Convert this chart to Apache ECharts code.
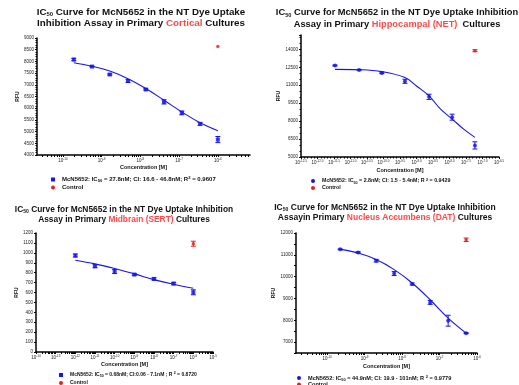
<!DOCTYPE html>
<html>
<head>
<meta charset="utf-8">
<script src="https://cdn.jsdelivr.net/npm/echarts@6/dist/echarts.min.js"></script>
<style>
  html, body { margin: 0; padding: 0; background: #fff; }
  #chart { width: 519px; height: 385px; }
</style>
</head>
<body>
<div id="chart"></div>
<script>
// log10 concentration [M] of each dilution
const corticalConc = [-9.72, -9.25, -8.79, -8.32, -7.86, -7.39, -6.93, -6.46, -6.0];
const corticalRfu = [8080, 7780, 7440, 7160, 6800, 6270, 5800, 5330, 4660];
const corticalErr = [50, 20, 30, 60, 30, 90, 80, 60, 130];
const corticalFit = [7940, 7790, 7590, 7260, 6840, 6340, 5840, 5380, 5040];
const corticalCtrl = [-6.0, 8640, 0];

const hippoConc = [-11.47, -10.74, -10.05, -9.35, -8.62, -7.92, -7.23];
const hippoRfu = [12650, 12280, 12030, 11330, 10030, 8330, 5970];
const hippoErr = [40, 40, 60, 170, 220, 250, 300];
const hippoFitConc = [-11.47, -10.74, -10.05, -9.35, -9.0, -8.62, -8.27, -7.92, -7.57, -7.23];
const hippoFit = [12330, 12300, 12140, 11640, 10940, 10110, 9000, 8170, 7330, 6640];
const hippoCtrl = [-7.23, 13890, 80];

const midConc = [-12, -11, -10, -9, -8, -7, -6];
const midRfu = [973, 865, 811, 781, 737, 690, 602];
const midErr = [15, 15, 20, 8, 12, 12, 25];
const midFit = [926, 889, 842, 788, 730, 683, 642];
const midCtrl = [-6, 1092, 25];

const nacConc = [-9.65, -9.17, -8.69, -8.21, -7.73, -7.25, -6.77, -6.29];
const nacRfu = [11250, 11110, 10730, 10140, 9660, 8820, 7980, 7410];
const nacErr = [20, 30, 60, 90, 50, 90, 250, 20];
const nacFit = [11250, 11080, 10780, 10320, 9710, 8940, 8100, 7410];
const nacCtrl = [-6.29, 11690, 80];

const legendTexts = [
  "McN5652: IC{sub|50} = 27.8nM; CI: 16.6 - 46.8nM; R{sup|2} = 0.9607",
  "McN5652: IC{sub|50} = 2.8nM; CI: 1.5 - 5.4nM; R {sup|2} = 0.9429",
  "McN5652: IC{sub|50} = 0.68nM; CI:0.06 - 7.1nM ; R {sup|2} = 0.8720",
  "McN5652: IC{sub|50} = 44.9nM; CI: 19.9 - 101nM; R {sup|2} = 0.9779",
];

const BLUE = "#1414f0";
const RED = "#ee1c1c";
const TITLE_RED = "#ff4a4a";

const panels = [
  {
    conc: corticalConc, rfu: corticalRfu, err: corticalErr, fitX: corticalConc, fit: corticalFit, ctrl: corticalCtrl,
    grid: { left: 37, top: 38, width: 213, height: 117 },
    x: { min: -10.67, max: -5.17, decade: true },
    y: { min: 4000, max: 9000, interval: 500, minor: 5 },
    symbol: "rect", legend: { left: 51, top: 176, gap: 1.5, font: 6 }, nameGap: 8, rfuGap: 17,
  },
  {
    conc: hippoConc, rfu: hippoRfu, err: hippoErr, fitX: hippoFitConc, fit: hippoFit, ctrl: hippoCtrl,
    grid: { left: 301, top: 35, width: 198, height: 122 },
    x: { min: -12.5, max: -6.5, interval: 0.5 },
    y: { min: 5000, max: 15200, interval: 1500, minor: 3 },
    symbol: "circle", legend: { left: 311, top: 177.5, gap: 1, font: 5.3 }, nameGap: 10, rfuGap: 16,
  },
  {
    conc: midConc, rfu: midRfu, err: midErr, fitX: midConc, fit: midFit, ctrl: midCtrl,
    grid: { left: 36, top: 233, width: 177, height: 119 },
    x: { min: -14, max: -5, decade: true },
    y: { min: 0, max: 1200, interval: 100, minor: 0 },
    symbol: "rect", legend: { left: 59, top: 371.5, gap: 2, font: 5 }, nameGap: 9, rfuGap: 13,
  },
  {
    conc: nacConc, rfu: nacRfu, err: nacErr, fitX: nacConc, fit: nacFit, ctrl: nacCtrl,
    grid: { left: 296, top: 233, width: 181, height: 120 },
    x: { min: -10.83, max: -6, decade: true },
    y: { min: 6500, max: 12000, interval: 500, minor: 0, every: 1000 },
    symbol: "circle", legend: { left: 297, top: 374.5, gap: 0, font: 5.6 }, nameGap: 10, rfuGap: 13,
  },
];

const chart = echarts.init(document.getElementById("chart"));

function logTicks(min, max) {
  let out = [];
  for (let d = Math.floor(min); d <= Math.ceil(max); d++) {
    for (let m = 1; m <= 9; m++) {
      let v = d + Math.log10(m);
      if (v >= min - 1e-9 && v <= max + 1e-9) out.push(v);
    }
  }
  return out;
}
function decades(min, max) {
  let out = [];
  for (let d = Math.ceil(min); d <= Math.floor(max); d++) out.push(d);
  return out;
}

const errorBar = (color) => (params, api) => {
  if (!api.value(2)) return null;
  let x = api.value(0);
  let lo = api.coord([x, api.value(1) - api.value(2)]);
  let hi = api.coord([x, api.value(1) + api.value(2)]);
  let style = { stroke: color, lineWidth: 1 };
  return {
    type: "group",
    children: [
      { type: "line", shape: { x1: lo[0], y1: lo[1], x2: hi[0], y2: hi[1] }, style },
      { type: "line", shape: { x1: lo[0] - 2.5, y1: lo[1], x2: lo[0] + 2.5, y2: lo[1] }, style },
      { type: "line", shape: { x1: hi[0] - 2.5, y1: hi[1], x2: hi[0] + 2.5, y2: hi[1] }, style },
    ],
  };
};

const labelRich = {
  b: { fontSize: 4.5, fontFamily: "Liberation Sans", color: "#222" },
  s: { fontSize: 3, fontFamily: "Liberation Sans", color: "#222", verticalAlign: "top", padding: [0, 0, 3, 0] },
};

let grids = [], xAxes = [], yAxes = [], series = [], legends = [];
panels.forEach((p, i) => {
  grids.push(Object.assign({ containLabel: false }, p.grid));
  let xa = {
    type: "value", gridIndex: i, min: p.x.min, max: p.x.max,
    name: "Concentration [M]", nameLocation: "middle", nameGap: p.nameGap,
    nameTextStyle: { fontSize: 5.5, fontWeight: "bold", fontFamily: "Liberation Sans", color: "#111" },
    axisLine: { lineStyle: { color: "#000", width: 1.5 } },
    splitLine: { show: false },
    axisTick: { length: 2, lineStyle: { color: "#000", width: 1 } },
    axisLabel: {
      margin: 3,
      formatter: (v) => {
        let s = p.x.interval ? (Math.round(v * 10) / 10).toFixed(1) : String(Math.round(v));
        return "{b|10}{s|" + s + "}";
      },
      rich: labelRich,
    },
  };
  if (p.x.decade) {
    xa.axisLabel.customValues = decades(p.x.min, p.x.max);
    xa.axisTick.customValues = logTicks(p.x.min, p.x.max);
  } else {
    xa.interval = p.x.interval;
    xa.minorTick = { show: true, splitNumber: 5, length: 1.5, lineStyle: { color: "#000" } };
  }
  xAxes.push(xa);

  yAxes.push({
    type: "value", gridIndex: i, min: p.y.min, max: p.y.max, interval: p.y.interval,
    name: "RFU", nameLocation: "middle", nameGap: p.rfuGap, nameRotate: 90,
    nameTextStyle: { fontSize: 5, fontWeight: "bold", fontFamily: "Liberation Sans", color: "#111" },
    axisLine: { show: true, lineStyle: { color: "#000", width: 1.5 } },
    splitLine: { show: false },
    axisTick: { show: true, length: 2, lineStyle: { color: "#000" } },
    minorTick: { show: p.y.minor > 0, splitNumber: p.y.minor || 5, length: 1.5, lineStyle: { color: "#000" } },
    axisLabel: {
      fontSize: 4.5, fontFamily: "Liberation Sans", color: "#222", margin: 3,
      showMaxLabel: p.y.max % p.y.interval === 0,
      formatter: (v) => (p.y.every && v % p.y.every !== 0 ? "" : String(v)),
    },
  });

  let mcnName = "mcn" + i, ctrlName = "ctrl" + i;
  series.push({
    name: mcnName, type: "line", xAxisIndex: i, yAxisIndex: i,
    data: p.fitX.map((x, k) => [x, p.fit[k]]),
    smooth: 0.4, showSymbol: false, symbol: "none",
    lineStyle: { color: BLUE, width: 1.1 }, itemStyle: { color: BLUE }, z: 2,
  });
  series.push({
    name: mcnName, type: "custom", xAxisIndex: i, yAxisIndex: i,
    data: p.conc.map((x, k) => [x, p.rfu[k], p.err[k]]),
    renderItem: errorBar(BLUE), z: 3,
  });
  series.push({
    name: mcnName, type: "scatter", xAxisIndex: i, yAxisIndex: i,
    data: p.conc.map((x, k) => [x, p.rfu[k]]),
    symbol: p.symbol, symbolSize: 4, itemStyle: { color: BLUE }, z: 4,
  });
  series.push({
    name: ctrlName, type: "custom", xAxisIndex: i, yAxisIndex: i,
    data: [p.ctrl], renderItem: errorBar(RED), z: 3,
  });
  series.push({
    name: ctrlName, type: "scatter", xAxisIndex: i, yAxisIndex: i,
    data: [[p.ctrl[0], p.ctrl[1]]],
    symbol: "circle", symbolSize: 3.5, itemStyle: { color: RED }, z: 4,
  });

  let f = p.legend.font;
  legends.push({
    left: p.legend.left, top: p.legend.top, orient: "vertical", height: 40, padding: 0,
    itemWidth: 4, itemHeight: 4, itemGap: p.legend.gap, selectedMode: false,
    data: [
      { name: mcnName, icon: p.symbol === "rect" ? "rect" : "circle", itemStyle: { color: BLUE } },
      { name: ctrlName, icon: "circle", itemStyle: { color: RED } },
    ],
    formatter: (n) => (n === mcnName ? legendTexts[i] : "Control"),
    textStyle: {
      fontSize: f, fontWeight: "bold", fontFamily: "Liberation Sans", color: "#111", padding: [0, 0, 0, 2],
      rich: {
        sub: { fontSize: f * 0.7, fontWeight: "bold", verticalAlign: "bottom", padding: [3, 0, 0, 0] },
        sup: { fontSize: f * 0.7, fontWeight: "bold", verticalAlign: "top", padding: [0, 0, 3, 0] },
      },
    },
  });
});

const titleRich = (size) => ({
  t: { fontSize: size, fontWeight: "bold", fontFamily: "Liberation Sans", fill: "#111", lineHeight: size + 2 },
  sub: { fontSize: size * 0.6, fontWeight: "bold", fontFamily: "Liberation Sans", fill: "#111", verticalAlign: "bottom", lineHeight: size + 2 },
  r: { fontSize: size, fontWeight: "bold", fontFamily: "Liberation Sans", fill: TITLE_RED, lineHeight: size + 2 },
});

function titleText(x, y, size, line1, region, tail) {
  return {
    type: "text", x: x, y: y, z: 10,
    style: {
      text: "{t|IC}{sub|50}{t|" + line1 + "}\n{t|" + tail[0] + "}{r|" + region + "}{t|" + tail[1] + "}",
      rich: titleRich(size), align: "center",
    },
  };
}

chart.setOption({
  animation: false,
  textStyle: { fontFamily: "Liberation Sans" },
  grid: grids,
  xAxis: xAxes,
  yAxis: yAxes,
  legend: legends,
  series: series,
  graphic: [
    titleText(141, 6, 9.8, " Curve for McN5652 in the NT Dye Uptake", "Cortical", ["Inhibition Assay in Primary ", " Cultures"]),
    titleText(397, 7, 9.3, " Curve for McN5652 in the NT Dye Uptake Inhibition", "Hippocampal (NET)", ["Assay in Primary ", "  Cultures"]),
    titleText(124, 204, 8.4, " Curve for McN5652 in the NT Dye Uptake Inhibition", "Midbrain (SERT)", ["Assay in Primary ", " Cultures"]),
    titleText(385, 202, 8.5, " Curve for McN5652 in the NT Dye Uptake Inhibition", "Nucleus Accumbens (DAT)", ["Assayin Primary ", " Cultures"]),
  ],
});
</script>
</body>
</html>
